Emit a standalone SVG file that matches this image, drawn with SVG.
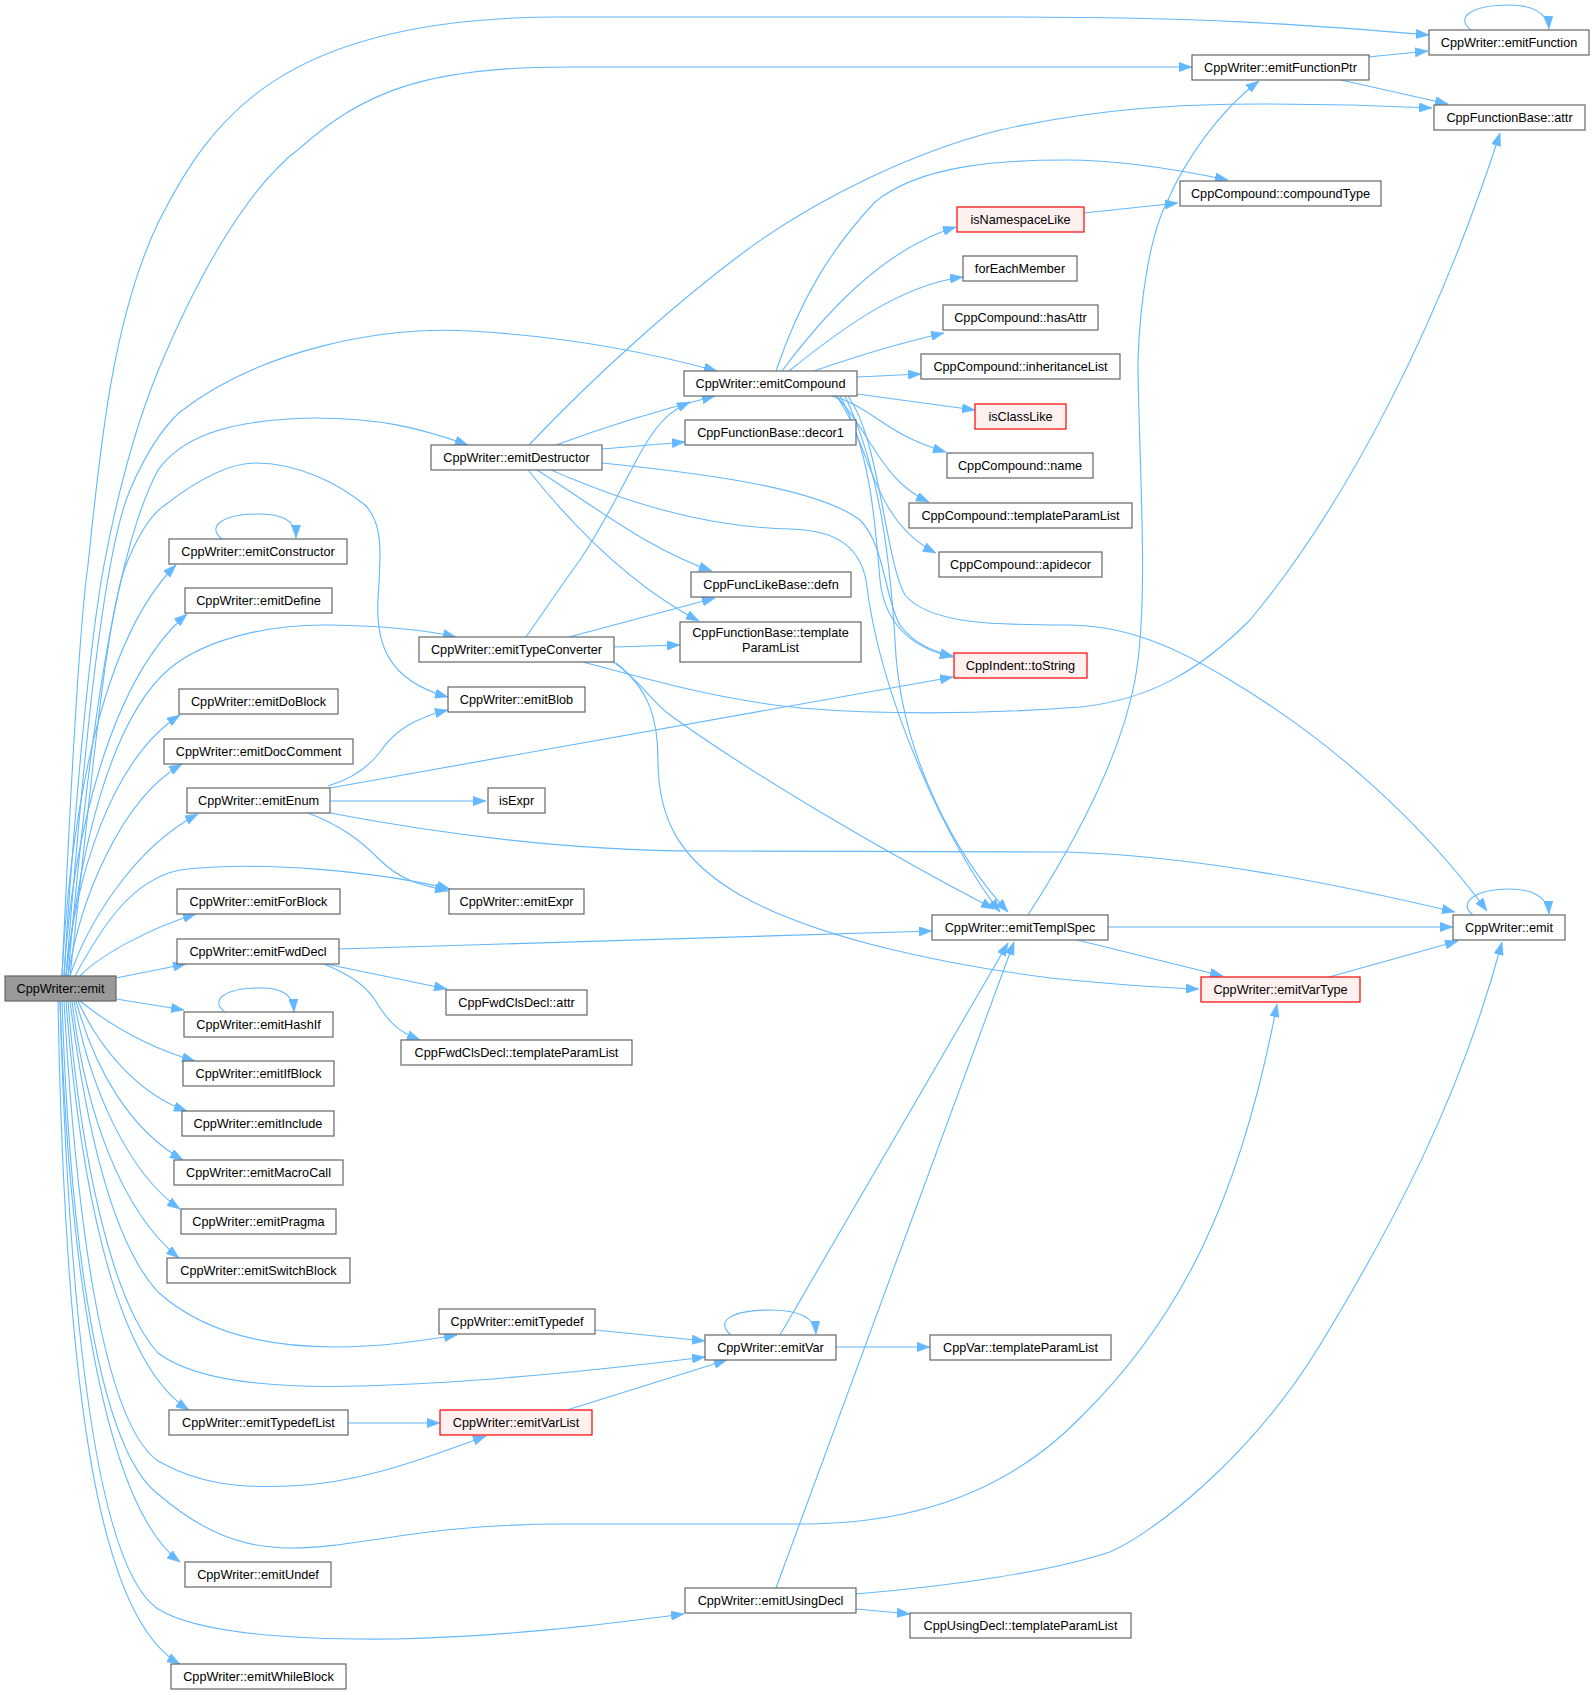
<svg xmlns="http://www.w3.org/2000/svg" width="1595" height="1695" viewBox="0 0 1595 1695">
<style>
.e{fill:none;stroke:#63b8ff;stroke-width:1.1;marker-end:url(#ah)}
.n rect{fill:#ffffff;stroke:#666666;stroke-width:1.2}
.n.red rect{fill:#fff0f0;stroke:#ff0000}
.n.root rect{fill:#999999;stroke:#666666}
.n text{font-family:"Liberation Sans",Arial,Helvetica,sans-serif;font-size:12.7px;fill:#000000;text-anchor:middle}
</style>
<defs>
<marker id="ah" viewBox="0 0 13 9.5" refX="13" refY="4.75" markerWidth="13" markerHeight="9.5" markerUnits="userSpaceOnUse" orient="auto">
<path d="M0,0 L13,4.75 L0,9.5 z" fill="#63b8ff" stroke="#63b8ff" stroke-width="0.5"/>
</marker>
</defs>
<rect x="0" y="0" width="1595" height="1695" fill="#ffffff"/>
<g id="edges">
<path class="e" d="M62,976 C70,800 80,620 88,565 C100,450 112,320 158,223 C210,120 280,17 560,17 L1000,17 C1200,17 1300,24 1429,35"/>
<path class="e" d="M64,976 C75,800 90,640 104,565 C120,480 138,420 158,371 C200,270 250,185 300,148 C360,95 420,67 565,67 L1192,67"/>
<path class="e" d="M66,976 C80,800 100,560 130,490 C145,455 160,430 180,412 C260,350 380,326 470,331 C560,336 640,350 717,371"/>
<path class="e" d="M68,976 C85,780 110,560 158,470 C180,440 220,420 313,418 C380,418 420,428 468,445"/>
<path class="e" d="M70,976 C90,800 105,620 126,565 C138,535 150,515 165,505 C200,478 230,463 255,463 C300,463 340,485 365,505 C385,525 380,560 378,600 C376,640 385,680 448,697"/>
<path class="e" d="M62,976 C70,820 100,640 176,565"/>
<path class="e" d="M222,539 C206,527 222,514 258,514 C282,514 296,520 296,538"/>
<path class="e" d="M64,976 C72,840 110,680 187,614"/>
<path class="e" d="M66,976 C80,850 110,720 169,669 C210,635 280,624 330,625 C390,626 430,631 456,637"/>
<path class="e" d="M66,976 C75,880 110,760 180,715"/>
<path class="e" d="M68,976 C80,900 120,800 182,764"/>
<path class="e" d="M70,976 C85,930 130,850 198,814"/>
<path class="e" d="M75,976 C100,930 130,880 180,870 C260,860 380,872 450,889"/>
<path class="e" d="M80,976 C100,955 150,928 196,914"/>
<path class="e" d="M116,978 L186,964"/>
<path class="e" d="M116,999 L184,1010"/>
<path class="e" d="M225,1012 C209,1000 225,988 260,988 C282,988 293,994 294,1012"/>
<path class="e" d="M80,1001 C110,1025 150,1048 195,1061"/>
<path class="e" d="M78,1001 C100,1050 140,1095 187,1111"/>
<path class="e" d="M76,1001 C95,1070 130,1130 183,1160"/>
<path class="e" d="M74,1001 C90,1090 130,1175 180,1209"/>
<path class="e" d="M72,1001 C85,1110 120,1210 179,1258"/>
<path class="e" d="M70,1001 C85,1120 110,1240 158,1292 C200,1330 260,1347 335,1347 C380,1347 420,1341 457,1335"/>
<path class="e" d="M68,1001 C80,1150 110,1300 158,1353 C200,1385 290,1388 360,1386 C480,1383 600,1370 705,1357"/>
<path class="e" d="M66,1001 C78,1160 110,1360 189,1410"/>
<path class="e" d="M64,1001 C75,1200 100,1420 158,1461 C200,1485 240,1488 290,1486 C360,1483 420,1460 486,1436"/>
<path class="e" d="M62,1001 C70,1250 100,1450 158,1494 C200,1530 240,1548 290,1548 C360,1548 420,1524 565,1524 L803,1524 C900,1524 1000,1500 1080,1418 C1180,1320 1240,1200 1277,1004"/>
<path class="e" d="M60,1001 C70,1300 110,1510 180,1562"/>
<path class="e" d="M60,1001 C70,1350 100,1570 158,1609 C200,1635 300,1640 396,1639 C500,1637 600,1625 684,1614"/>
<path class="e" d="M58,1001 C65,1400 100,1620 180,1664"/>
<path class="e" d="M556,445 C610,425 660,410 715,396"/>
<path class="e" d="M602,449 L685,442"/>
<path class="e" d="M529,445 C600,370 680,300 740,255 C820,195 920,150 1000,130 C1100,108 1180,104 1264,104 C1330,104 1390,106 1432,108"/>
<path class="e" d="M528,470 C560,510 620,580 699,621"/>
<path class="e" d="M537,470 C600,510 650,550 712,571"/>
<path class="e" d="M551,470 C620,500 700,527 790,529 C840,530 860,550 866,580 C880,700 950,850 1000,912"/>
<path class="e" d="M602,463 C720,475 820,490 860,520 C885,545 885,600 900,625 C915,645 935,652 953,656"/>
<path class="e" d="M840,396 C870,450 875,520 880,580 C885,630 920,650 953,657"/>
<path class="e" d="M845,396 C880,470 890,560 895,640 C900,760 960,860 1008,912"/>
<path class="e" d="M848,396 C880,440 885,560 905,595 C930,625 1000,625 1066,625 C1130,625 1180,650 1230,680 C1330,740 1420,820 1487,911"/>
<path class="e" d="M776,371 C800,300 830,250 875,202 C920,165 1000,160 1066,160 C1120,160 1180,170 1228,180"/>
<path class="e" d="M782,371 C820,320 880,250 956,227"/>
<path class="e" d="M789,371 C840,330 900,285 963,277"/>
<path class="e" d="M814,371 C860,355 900,343 944,333"/>
<path class="e" d="M857,377 L921,374"/>
<path class="e" d="M857,394 L975,410"/>
<path class="e" d="M832,396 C870,405 885,435 946,452"/>
<path class="e" d="M836,396 C870,430 880,480 929,502"/>
<path class="e" d="M836,396 C870,440 870,520 936,553"/>
<path class="e" d="M526,637 C545,610 565,580 580,560 C610,515 630,470 645,445 C660,420 672,410 690,402"/>
<path class="e" d="M569,637 L715,598"/>
<path class="e" d="M614,647 L680,645"/>
<path class="e" d="M583,662 C650,680 720,700 800,708 C900,716 1000,713 1080,707 C1150,700 1200,670 1250,620 C1350,500 1440,320 1500,133"/>
<path class="e" d="M612,661 C640,680 650,700 670,715 C760,780 900,860 994,909"/>
<path class="e" d="M616,663 C650,690 658,720 658,760 C658,820 680,860 740,895 C820,940 950,965 1050,978 C1120,985 1170,988 1199,989"/>
<path class="e" d="M328,786 C355,778 370,765 380,752 C395,730 415,718 448,710"/>
<path class="e" d="M330,788 L953,677"/>
<path class="e" d="M330,801 L486,801"/>
<path class="e" d="M308,813 C340,825 360,840 380,860 C400,880 420,885 448,891"/>
<path class="e" d="M330,813 C420,830 560,851 700,851 L1066,852 C1200,856 1340,885 1455,912"/>
<path class="e" d="M339,949 L932,931"/>
<path class="e" d="M326,964 L447,989"/>
<path class="e" d="M324,964 C350,975 365,985 375,1000 C390,1025 400,1032 420,1040"/>
<path class="e" d="M1028,915 C1070,850 1120,760 1135,680 C1150,600 1138,450 1138,360 C1140,300 1150,235 1167,202 C1185,160 1220,110 1259,81"/>
<path class="e" d="M1108,927 L1453,927"/>
<path class="e" d="M1077,940 L1223,976"/>
<path class="e" d="M1329,977 L1458,941"/>
<path class="e" d="M1368,57 L1428,51"/>
<path class="e" d="M1341,80 L1448,104"/>
<path class="e" d="M1471,30 C1455,18 1470,5 1510,5 C1530,5 1548,12 1549,29"/>
<path class="e" d="M1473,915 C1457,903 1475,889 1510,889 C1530,889 1548,896 1549,914"/>
<path class="e" d="M1084,213 L1178,203"/>
<path class="e" d="M595,1330 L705,1341"/>
<path class="e" d="M567,1410 L727,1360"/>
<path class="e" d="M348,1423 L440,1423"/>
<path class="e" d="M836,1347 L930,1347"/>
<path class="e" d="M780,1335 L1008,943"/>
<path class="e" d="M731,1335 C715,1322 730,1310 770,1310 C795,1310 815,1316 816,1334"/>
<path class="e" d="M776,1588 L1014,942"/>
<path class="e" d="M856,1609 L910,1614"/>
<path class="e" d="M856,1594 C950,1586 1050,1572 1110,1552 C1150,1535 1250,1460 1320,1345 C1390,1230 1460,1100 1502,942"/>
</g>
<g id="n0" class="n root"><rect x="5" y="976" width="111" height="25"/><text x="60.5" y="993">CppWriter::emit</text></g>
<g id="n1" class="n"><rect x="1429" y="30" width="160" height="25"/><text x="1509" y="47">CppWriter::emitFunction</text></g>
<g id="n2" class="n"><rect x="1192" y="55" width="177" height="25"/><text x="1280.5" y="72">CppWriter::emitFunctionPtr</text></g>
<g id="n3" class="n"><rect x="1434" y="105" width="151" height="25"/><text x="1509.5" y="122">CppFunctionBase::attr</text></g>
<g id="n4" class="n"><rect x="1180" y="181" width="201" height="25"/><text x="1280.5" y="198">CppCompound::compoundType</text></g>
<g id="n5" class="n red"><rect x="957" y="207" width="127" height="25"/><text x="1020.5" y="224">isNamespaceLike</text></g>
<g id="n6" class="n"><rect x="963" y="256" width="114" height="25"/><text x="1020" y="273">forEachMember</text></g>
<g id="n7" class="n"><rect x="943" y="305" width="155" height="25"/><text x="1020.5" y="322">CppCompound::hasAttr</text></g>
<g id="n8" class="n"><rect x="921" y="354" width="199" height="25"/><text x="1020.5" y="371">CppCompound::inheritanceList</text></g>
<g id="n9" class="n"><rect x="684" y="371" width="173" height="25"/><text x="770.5" y="388">CppWriter::emitCompound</text></g>
<g id="n10" class="n red"><rect x="975" y="404" width="91" height="25"/><text x="1020.5" y="421">isClassLike</text></g>
<g id="n11" class="n"><rect x="685" y="420" width="171" height="25"/><text x="770.5" y="437">CppFunctionBase::decor1</text></g>
<g id="n12" class="n"><rect x="431" y="445" width="171" height="25"/><text x="516.5" y="462">CppWriter::emitDestructor</text></g>
<g id="n13" class="n"><rect x="947" y="453" width="146" height="25"/><text x="1020" y="470">CppCompound::name</text></g>
<g id="n14" class="n"><rect x="909" y="503" width="223" height="25"/><text x="1020.5" y="520">CppCompound::templateParamList</text></g>
<g id="n15" class="n"><rect x="169" y="539" width="178" height="25"/><text x="258" y="556">CppWriter::emitConstructor</text></g>
<g id="n16" class="n"><rect x="939" y="552" width="163" height="25"/><text x="1020.5" y="569">CppCompound::apidecor</text></g>
<g id="n17" class="n"><rect x="691" y="572" width="160" height="25"/><text x="771" y="589">CppFuncLikeBase::defn</text></g>
<g id="n18" class="n"><rect x="185" y="588" width="147" height="25"/><text x="258.5" y="605">CppWriter::emitDefine</text></g>
<g id="n19" class="n"><rect x="680" y="622" width="181" height="40"/><text x="770.5" y="637">CppFunctionBase::template</text><text x="770.5" y="652">ParamList</text></g>
<g id="n20" class="n"><rect x="419" y="637" width="195" height="25"/><text x="516.5" y="654">CppWriter::emitTypeConverter</text></g>
<g id="n21" class="n red"><rect x="954" y="653" width="133" height="25"/><text x="1020.5" y="670">CppIndent::toString</text></g>
<g id="n22" class="n"><rect x="448" y="687" width="137" height="25"/><text x="516.5" y="704">CppWriter::emitBlob</text></g>
<g id="n23" class="n"><rect x="179" y="689" width="159" height="25"/><text x="258.5" y="706">CppWriter::emitDoBlock</text></g>
<g id="n24" class="n"><rect x="164" y="739" width="189" height="25"/><text x="258.5" y="756">CppWriter::emitDocComment</text></g>
<g id="n25" class="n"><rect x="187" y="788" width="143" height="25"/><text x="258.5" y="805">CppWriter::emitEnum</text></g>
<g id="n26" class="n"><rect x="488" y="788" width="57" height="25"/><text x="516.5" y="805">isExpr</text></g>
<g id="n27" class="n"><rect x="449" y="889" width="135" height="25"/><text x="516.5" y="906">CppWriter::emitExpr</text></g>
<g id="n28" class="n"><rect x="177" y="889" width="163" height="25"/><text x="258.5" y="906">CppWriter::emitForBlock</text></g>
<g id="n29" class="n"><rect x="932" y="915" width="176" height="25"/><text x="1020" y="932">CppWriter::emitTemplSpec</text></g>
<g id="n30" class="n"><rect x="1453" y="915" width="112" height="25"/><text x="1509" y="932">CppWriter::emit</text></g>
<g id="n31" class="n"><rect x="177" y="939" width="162" height="25"/><text x="258" y="956">CppWriter::emitFwdDecl</text></g>
<g id="n32" class="n red"><rect x="1201" y="977" width="159" height="25"/><text x="1280.5" y="994">CppWriter::emitVarType</text></g>
<g id="n33" class="n"><rect x="446" y="990" width="141" height="25"/><text x="516.5" y="1007">CppFwdClsDecl::attr</text></g>
<g id="n34" class="n"><rect x="184" y="1012" width="149" height="25"/><text x="258.5" y="1029">CppWriter::emitHashIf</text></g>
<g id="n35" class="n"><rect x="401" y="1040" width="231" height="25"/><text x="516.5" y="1057">CppFwdClsDecl::templateParamList</text></g>
<g id="n36" class="n"><rect x="183" y="1061" width="151" height="25"/><text x="258.5" y="1078">CppWriter::emitIfBlock</text></g>
<g id="n37" class="n"><rect x="182" y="1111" width="152" height="25"/><text x="258" y="1128">CppWriter::emitInclude</text></g>
<g id="n38" class="n"><rect x="174" y="1160" width="169" height="25"/><text x="258.5" y="1177">CppWriter::emitMacroCall</text></g>
<g id="n39" class="n"><rect x="181" y="1209" width="155" height="25"/><text x="258.5" y="1226">CppWriter::emitPragma</text></g>
<g id="n40" class="n"><rect x="167" y="1258" width="183" height="25"/><text x="258.5" y="1275">CppWriter::emitSwitchBlock</text></g>
<g id="n41" class="n"><rect x="439" y="1309" width="156" height="25"/><text x="517" y="1326">CppWriter::emitTypedef</text></g>
<g id="n42" class="n"><rect x="705" y="1335" width="131" height="25"/><text x="770.5" y="1352">CppWriter::emitVar</text></g>
<g id="n43" class="n"><rect x="930" y="1335" width="181" height="25"/><text x="1020.5" y="1352">CppVar::templateParamList</text></g>
<g id="n44" class="n"><rect x="169" y="1410" width="179" height="25"/><text x="258.5" y="1427">CppWriter::emitTypedefList</text></g>
<g id="n45" class="n red"><rect x="440" y="1410" width="152" height="25"/><text x="516" y="1427">CppWriter::emitVarList</text></g>
<g id="n46" class="n"><rect x="185" y="1562" width="146" height="25"/><text x="258" y="1579">CppWriter::emitUndef</text></g>
<g id="n47" class="n"><rect x="685" y="1588" width="171" height="25"/><text x="770.5" y="1605">CppWriter::emitUsingDecl</text></g>
<g id="n48" class="n"><rect x="910" y="1613" width="221" height="25"/><text x="1020.5" y="1630">CppUsingDecl::templateParamList</text></g>
<g id="n49" class="n"><rect x="171" y="1664" width="175" height="25"/><text x="258.5" y="1681">CppWriter::emitWhileBlock</text></g>
</svg>
